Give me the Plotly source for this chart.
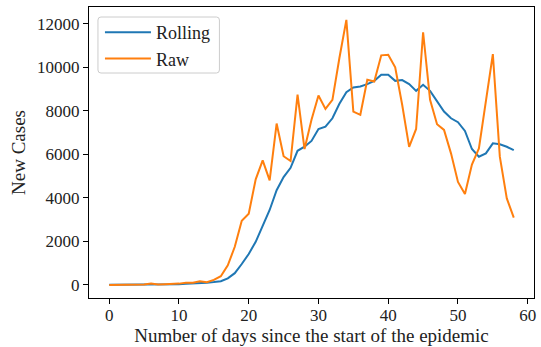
import plotly.graph_objects as go

# Daily new cases since the start of the epidemic
days = list(range(59))
raw_cases = [0, 0, 10, 10, 20, 20, 60, 20, 30, 40,
             60, 100, 100, 165, 120, 230, 400, 900, 1750, 2950,
             3270, 4850, 5720, 4800, 7410, 5910, 5690, 8740, 6240, 7580,
             8700, 8080, 8500, 10420, 12170, 7960, 7810, 9420, 9340, 10540,
             10570, 9990, 8270, 6340, 7160, 11600, 8500, 7380, 7120, 6040,
             4730, 4170, 5530, 6270, 8420, 10600, 5890, 3970, 3090]
rolling_cases = [10, 10, 10, 10, 15, 20, 25, 25, 30, 30,
                 35, 50, 60, 80, 100, 130, 170, 300, 540, 960,
                 1420, 1980, 2740, 3440, 4350, 4950, 5375, 6160, 6345, 6610,
                 7160, 7270, 7650, 8320, 8850, 9065, 9110, 9220, 9370, 9650,
                 9650, 9370, 9405, 9220, 8910, 9190, 8910, 8420, 7960, 7650,
                 7470, 7070, 6240, 5885, 6040, 6500, 6455, 6345, 6190]
x_ticks = [0, 10, 20, 30, 40, 50, 60]
y_ticks = [0, 2000, 4000, 6000, 8000, 10000, 12000]

FONT = "Liberation Serif"
W, H = 541, 347
L, R, T, B = 89, 5, 7, 49
pw, ph = W - L - R, H - T - B

fig = go.Figure()
fig.add_trace(go.Scatter(x=days, y=rolling_cases, mode="lines", name="Rolling",
                         line=dict(color="#1f77b4", width=2)))
fig.add_trace(go.Scatter(x=days, y=raw_cases, mode="lines", name="Raw",
                         line=dict(color="#ff7f0e", width=2)))

# rounded legend frame (pixel box converted to paper coordinates)
def px_x(p):
    return (p - L) / pw

def px_y(p):
    return (H - B - p) / ph

x0, x1, y0, y1 = 98, 220, 17, 73
r = 3
path = (f"M{px_x(x0 + r)},{px_y(y0)} L{px_x(x1 - r)},{px_y(y0)} "
        f"Q{px_x(x1)},{px_y(y0)} {px_x(x1)},{px_y(y0 + r)} "
        f"L{px_x(x1)},{px_y(y1 - r)} Q{px_x(x1)},{px_y(y1)} {px_x(x1 - r)},{px_y(y1)} "
        f"L{px_x(x0 + r)},{px_y(y1)} Q{px_x(x0)},{px_y(y1)} {px_x(x0)},{px_y(y1 - r)} "
        f"L{px_x(x0)},{px_y(y0 + r)} Q{px_x(x0)},{px_y(y0)} {px_x(x0 + r)},{px_y(y0)} Z")
fig.add_shape(type="path", path=path, xref="paper", yref="paper", layer="above",
              line=dict(color="#cccccc", width=1), fillcolor="rgba(255,255,255,0.8)")

axis_common = dict(showline=True, linecolor="black", linewidth=1, mirror=True,
                   ticks="outside", ticklen=5, tickwidth=1, tickcolor="black",
                   showgrid=False, zeroline=False, tickformat="d",
                   tickfont=dict(family=FONT, size=17, color="#222"))

fig.update_layout(
    width=W, height=H,
    margin=dict(l=L, r=R, t=T, b=B),
    plot_bgcolor="white", paper_bgcolor="white",
    font=dict(family=FONT, size=18, color="#222"),
    xaxis=dict(range=[-2.9, 60.9], tickvals=x_ticks, ticklabelstandoff=-3,
               title=dict(text="Number of days since the start of the epidemic",
                          font=dict(family=FONT, size=19), standoff=1),
               **axis_common),
    yaxis=dict(range=[-600, 12760], tickvals=y_ticks,
               title=dict(text="New Cases", font=dict(family=FONT, size=19), standoff=6),
               **axis_common),
    legend=dict(x=px_x(x0 + 2), y=px_y(y0 - 3), xanchor="left", yanchor="top",
                bgcolor="rgba(0,0,0,0)", borderwidth=0,
                font=dict(family=FONT, size=18, color="#222"),
                itemwidth=46, tracegroupgap=0),
    showlegend=True,
)

fig.write_html("out.html")
